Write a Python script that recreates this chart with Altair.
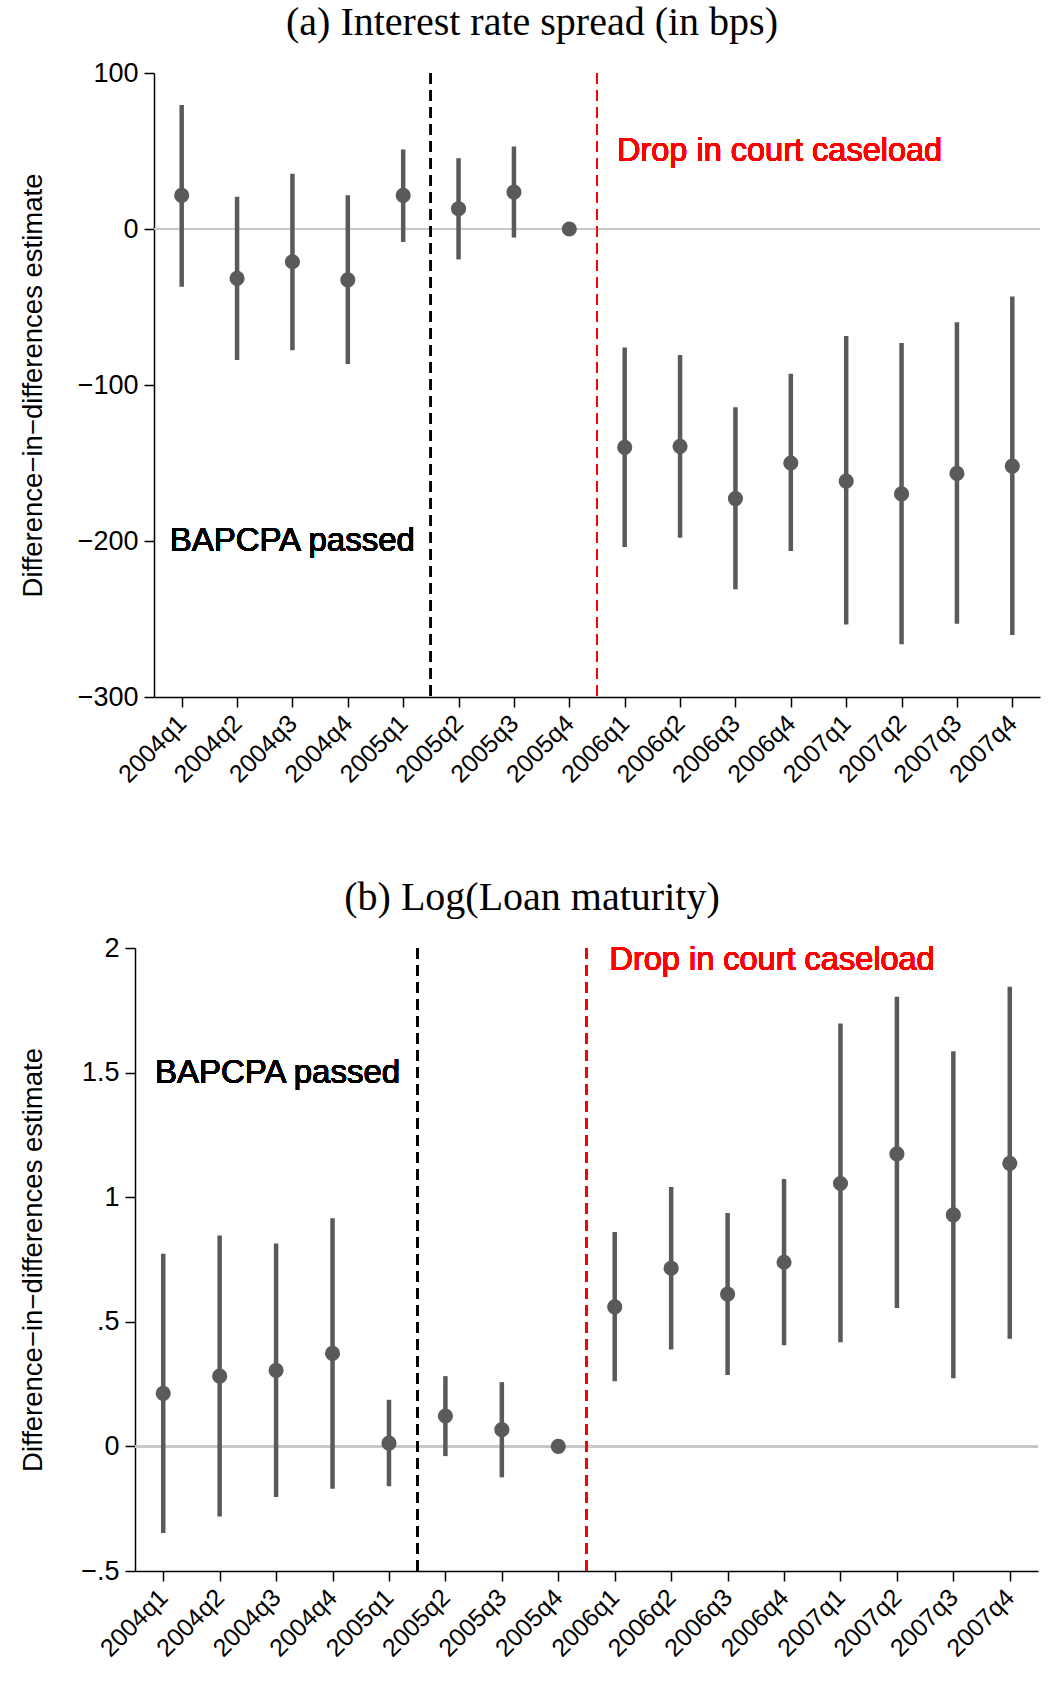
import altair as alt
import pandas as pd

quarters = ["2004q1", "2004q2", "2004q3", "2004q4", "2005q1", "2005q2", "2005q3", "2005q4",
            "2006q1", "2006q2", "2006q3", "2006q4", "2007q1", "2007q2", "2007q3", "2007q4"]

# (a) interest rate spread, in bps: point estimate and 95% CI (2005q4 is the base quarter)
spread_est = [21.5, -31.7, -21.0, -32.6, 21.5, 13.0, 23.7, 0.0,
              -140.0, -139.3, -172.8, -150.0, -161.6, -169.8, -156.7, -152.0]
spread_lo = [-37.0, -84.0, -77.8, -86.6, -8.3, -19.5, -5.5, None,
             -203.9, -197.9, -230.9, -206.4, -253.6, -266.2, -253.1, -260.2]
spread_hi = [79.5, 20.7, 35.4, 21.7, 51.0, 45.4, 52.9, None,
             -75.9, -80.8, -114.3, -92.8, -68.6, -73.1, -59.8, -43.3]

# (b) log loan maturity
maturity_est = [0.213, 0.282, 0.305, 0.373, 0.013, 0.122, 0.067, 0.0,
                0.560, 0.715, 0.611, 0.739, 1.055, 1.174, 0.929, 1.136]
maturity_lo = [-0.348, -0.281, -0.203, -0.170, -0.160, -0.039, -0.124, None,
               0.261, 0.389, 0.287, 0.406, 0.418, 0.555, 0.273, 0.432]
maturity_hi = [0.773, 0.846, 0.814, 0.916, 0.187, 0.282, 0.258, None,
               0.860, 1.041, 0.937, 1.073, 1.697, 1.804, 1.586, 1.845]

spread_ticks = [-300, -200, -100, 0, 100]
maturity_ticks = [-0.5, 0, 0.5, 1, 1.5, 2]

SANS = "Liberation Sans"
SERIF = "Liberation Serif"
DOT = "#5a5a5a"
Y_TITLE = "Difference\u2212in\u2212differences estimate"

quarter_expr = "[" + ",".join(f"'{q}'" for q in quarters) + "][datum.value - 1]"


def panel(est, lo, hi, title, domain, ticks, label_expr, left, width, height,
          title_x, title_dx, bap_y, bap_dx, drop_y, drop_dx):
    """One event-study panel; the plot area runs from `left` to `width` inside its group."""
    df = pd.DataFrame({"q": list(range(1, len(quarters) + 1)), "est": est, "lo": lo, "hi": hi})
    ci_df = df.dropna()

    x_scale = alt.Scale(domain=[0.5, len(quarters) + 0.5], range=[left, width], nice=False, zero=False)
    y_scale = alt.Scale(domain=domain, nice=False, zero=False)
    x_axis = alt.Axis(values=list(range(1, len(quarters) + 1)), labelExpr=quarter_expr,
                      labelAngle=-45, labelAlign="right", labelBaseline="middle",
                      labelOverlap=False, labelPadding=12, labelFontSize=25,
                      tickSize=10, grid=False, title=None)
    y_axis = alt.Axis(values=ticks, labelExpr=label_expr, labelFontSize=27, labelPadding=6,
                      tickSize=10, grid=False, offset=-left,
                      titleX=title_x, titleBaseline="alphabetic", titleY=height / 2)

    def xe(field="q"):
        return alt.X(f"{field}:Q", scale=x_scale, axis=x_axis)

    def ye(field):
        return alt.Y(f"{field}:Q", scale=y_scale, axis=y_axis, title=Y_TITLE)

    zero = alt.Chart(df).mark_rule(color="#c8c8c8", strokeWidth=1.5).encode(
        y=alt.datum(0, scale=y_scale), x=alt.value(left), x2=alt.value(width))
    law = alt.Chart(df).mark_rule(color="black", strokeWidth=2, strokeDash=[11, 6]).encode(x=alt.datum(5.5))
    drop = alt.Chart(df).mark_rule(color="#ff0000", strokeWidth=2, strokeDash=[11, 6]).encode(x=alt.datum(8.5))
    bars = alt.Chart(ci_df).mark_rule(color=DOT, strokeWidth=4.5).encode(x=xe(), y=ye("lo"), y2="hi:Q")
    dots = alt.Chart(df).mark_circle(color=DOT, size=230, opacity=1).encode(x=xe(), y=ye("est"))
    bap_text = alt.Chart(df).mark_text(text="BAPCPA passed", font=SANS, fontSize=33, fontWeight="normal",
                                       color="black", align="right", baseline="middle", dx=bap_dx).encode(
        x=alt.datum(5.5), y=alt.datum(bap_y))
    drop_text = alt.Chart(df).mark_text(text="Drop in court caseload", font=SANS, fontSize=32.5,
                                        fontWeight="normal", color="#ff0000", align="left",
                                        baseline="middle", dx=drop_dx).encode(
        x=alt.datum(8.5), y=alt.datum(drop_y))

    return alt.layer(zero, law, drop, bars, dots, bap_text, drop_text).properties(
        width=width, height=height,
        title=alt.TitleParams(title, font=SERIF, fontSize=40, fontWeight="normal", color="black",
                              anchor="middle", frame="group", dx=title_dx, offset=16),
    )


top = panel(spread_est, spread_lo, spread_hi, "(a) Interest rate spread (in bps)",
            [-300, 100], spread_ticks, "replace(datum.label, '-', '\u2212')",
            19, 905, 624, -113, -55.5, -200, -16, 50, 20)

bottom = panel(maturity_est, maturity_lo, maturity_hi, "(b) Log(Loan maturity)",
               [-0.5, 2], maturity_ticks,
               "datum.value == 0 ? '0' : (datum.value < 0 ? '\u2212' : '') + replace(format(abs(datum.value), '~g'), /^0\\./, '.')",
               0, 903, 623, -94, -54.5, 1.5, -17, 1.95, 23)

chart = alt.ConcatChart(concat=[top, bottom], columns=1, spacing=90).properties(
    padding={"left": 19, "top": 3, "right": 10, "bottom": 10}, background="white"
).configure_view(stroke=None).configure_axis(
    domainColor="black", domainWidth=1.5, tickColor="black", tickWidth=1.5,
    labelFont=SANS, labelColor="black",
    titleFont=SANS, titleFontSize=27.5, titleFontWeight="normal", titleColor="black",
)

chart.save("out.html", embed_options={"renderer": "svg", "actions": False})
